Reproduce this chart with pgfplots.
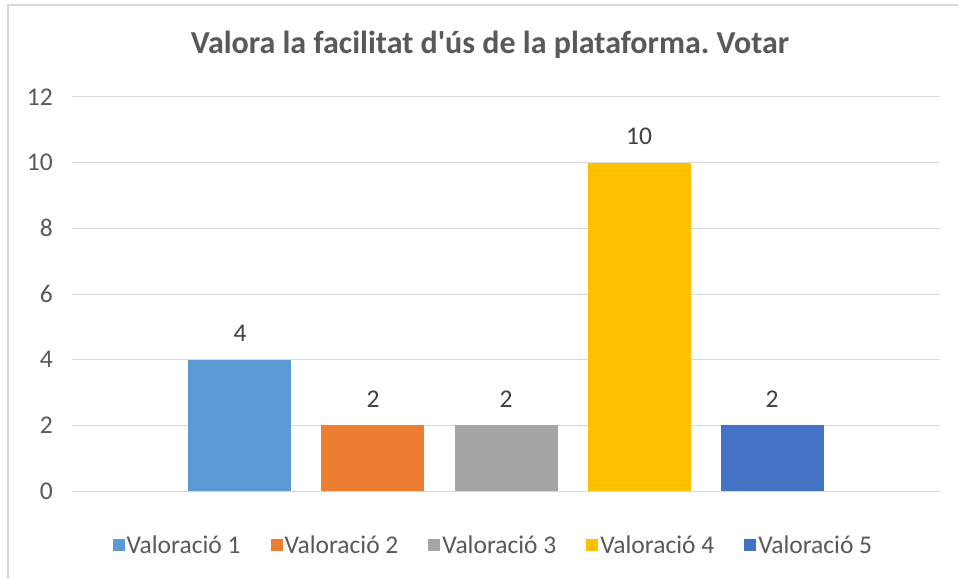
\documentclass[border=0pt]{standalone}
\usepackage{fontspec}
\setmainfont{Carlito}[Ligatures=TeXOff]
\usepackage{pgfplots}
\pgfplotsset{compat=1.18}
\frenchspacing
\definecolor{c1}{HTML}{5B9BD5}
\definecolor{c2}{HTML}{ED7D31}
\definecolor{c3}{HTML}{A5A5A5}
\definecolor{c4}{HTML}{FFC000}
\definecolor{c5}{HTML}{4472C4}
\definecolor{gridc}{HTML}{D9D9D9}
\definecolor{framec}{HTML}{D9D9D9}
\definecolor{txt}{HTML}{595959}
\definecolor{lbl}{HTML}{404040}
\begin{document}
\begin{tikzpicture}[x=1pt,y=1pt]
\useasboundingbox (-72,-88) rectangle (886,491);
\fill[white] (-72,-88) rectangle (886,491);
\draw[framec, line width=2pt] (-65,486) -- (886,486);
\draw[framec, line width=2pt] (-64,487) -- (-64,-88);
\node[font=\bfseries\fontsize{32}{36}\selectfont, text=txt] at (418,446) {Valora la facilitat d'ús de la plataforma.\ Votar};
\begin{axis}[
  at={(0,0)}, anchor=south west,
  scale only axis, width=868pt, height=394pt,
  xmin=-1.263, xmax=5.263,
  ymin=0, ymax=12, ytick={0,2,...,12},
  xtick=\empty,
  axis line style={draw=none},
  major tick length=0pt,
  ymajorgrids,
  grid style={gridc, line width=1pt},
  /pgf/number format/assume math mode=true,
  yticklabel style={font=\fontsize{25.5}{30}\selectfont, text=txt, inner sep=0pt, xshift=-19pt},
  ybar, bar width=103pt, bar shift=0pt,
  nodes near coords,
  every node near coord/.append style={font=\fontsize{25.5}{30}\selectfont, text=lbl, anchor=base, inner sep=0pt, yshift=18pt},
  legend columns=5,
  legend style={at={(0.4855,-0.137)}, anchor=center, draw=none, fill=none,
    font=\fontsize{25.5}{30}\selectfont, text=txt,
    /tikz/every even column/.append style={column sep=28pt}},
  legend image code/.code={\fill[#1] (0pt,-6pt) rectangle (12pt,6pt);},
]
\addplot[fill=c1, draw=none] coordinates {(0,4)};
\addplot[fill=c2, draw=none] coordinates {(1,2)};
\addplot[fill=c3, draw=none] coordinates {(2,2)};
\addplot[fill=c4, draw=none] coordinates {(3,10)};
\addplot[fill=c5, draw=none] coordinates {(4,2)};
\legend{Valoració 1, Valoració 2, Valoració 3, Valoració 4, Valoració 5}
\end{axis}
\end{tikzpicture}
\end{document}
